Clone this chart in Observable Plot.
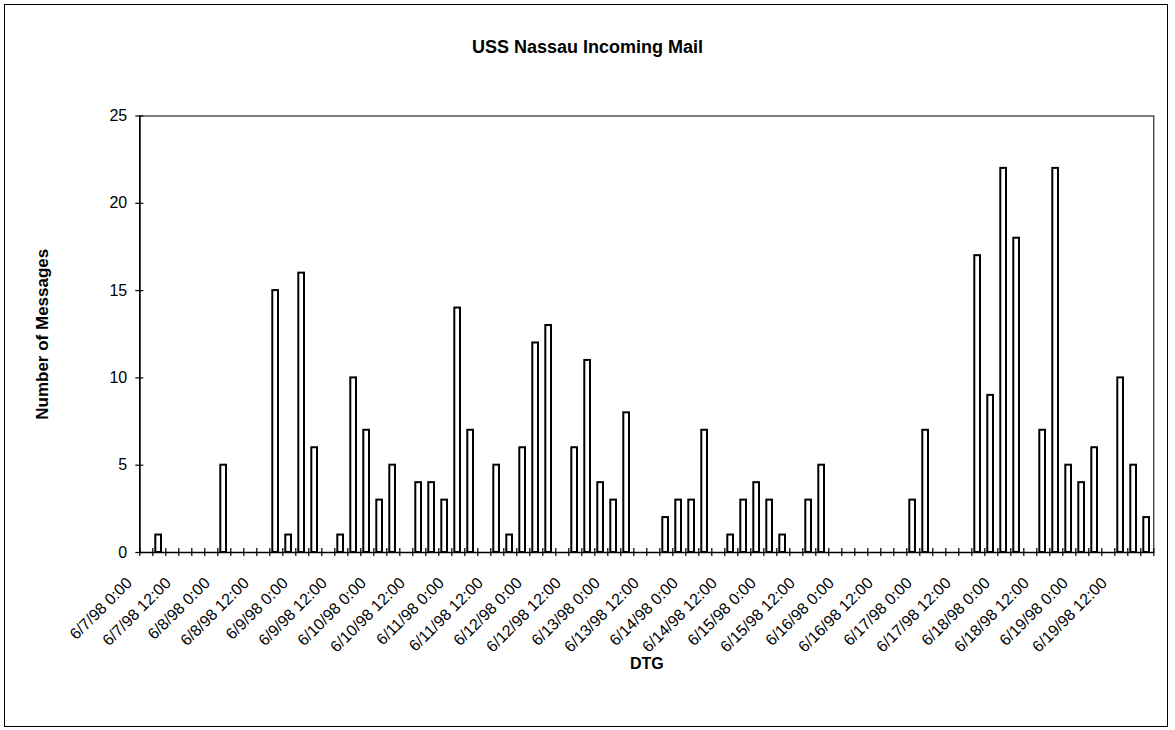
<!DOCTYPE html>
<html><head><meta charset="utf-8">
<script src="https://cdn.jsdelivr.net/npm/d3@7"></script>
<script src="https://cdn.jsdelivr.net/npm/@observablehq/plot@0.6"></script>
<style>
body{margin:0;background:#fff;}
#wrap{position:relative;width:1175px;height:730px;overflow:hidden;font-family:"Liberation Sans",Arial,Helvetica,sans-serif;color:#000;}
#title{height:90px;box-sizing:border-box;padding-top:37px;text-align:center;font-weight:bold;font-size:18px;line-height:20px;}
#chart svg{display:block;}
#border{position:absolute;left:4px;top:4px;width:1164px;height:723px;border:1px solid #000;box-sizing:border-box;pointer-events:none;}
</style></head>
<body><div id="wrap"><div id="title"></div><div id="chart"></div><div id="border"></div></div>
<script>
const chartTitle = "USS Nassau Incoming Mail";
const yLabel = "Number of Messages";
const xLabel = "DTG";
const startDate = new Date(Date.UTC(1998, 5, 7, 0));
const slotHours = 4;
// messages per 4-hour slot, 6/7/98 0:00 .. 6/19/98 20:00
const messages = [
  0, 1, 0, 0, 0, 0,
  5, 0, 0, 0, 15, 1,
  16, 6, 0, 1, 10, 7,
  3, 5, 0, 4, 4, 3,
  14, 7, 0, 5, 1, 6,
  12, 13, 0, 6, 11, 4,
  3, 8, 0, 0, 2, 3,
  3, 7, 0, 1, 3, 4,
  3, 1, 0, 3, 5, 0,
  0, 0, 0, 0, 0, 3,
  7, 0, 0, 0, 17, 9,
  22, 18, 0, 7, 22, 5,
  4, 6, 0, 10, 5, 2
];
const xTickLabels = [
  "6/7/98 0:00", "6/7/98 12:00", "6/8/98 0:00", "6/8/98 12:00",
  "6/9/98 0:00", "6/9/98 12:00", "6/10/98 0:00", "6/10/98 12:00",
  "6/11/98 0:00", "6/11/98 12:00", "6/12/98 0:00", "6/12/98 12:00",
  "6/13/98 0:00", "6/13/98 12:00", "6/14/98 0:00", "6/14/98 12:00",
  "6/15/98 0:00", "6/15/98 12:00", "6/16/98 0:00", "6/16/98 12:00",
  "6/17/98 0:00", "6/17/98 12:00", "6/18/98 0:00", "6/18/98 12:00",
  "6/19/98 0:00", "6/19/98 12:00"
];
const yTicks = [0, 5, 10, 15, 20, 25];

document.getElementById("title").textContent = chartTitle;

const slotStarts = d3.range(messages.length + 1).map(i => d3.utcHour.offset(startDate, slotHours * i));
const data = messages.map((v, i) => ({start: slotStarts[i], end: slotStarts[i + 1], value: v}));
// label sits at the centre of every third slot (every 12 hours)
const labelDates = xTickLabels.map((_, j) => d3.utcHour.offset(startDate, 12 * j + slotHours / 2));
const labelMap = new Map(labelDates.map((d, j) => [+d, xTickLabels[j]]));

const font = "'Liberation Sans', Arial, Helvetica, sans-serif";
const chart = Plot.plot({
  width: 1175, height: 640,
  marginLeft: 139.3, marginRight: 21.7, marginTop: 25.5, marginBottom: 178,
  style: {fontFamily: font, fontSize: "16px", color: "#000", background: "transparent", overflow: "visible"},
  x: {type: "utc", domain: [slotStarts[0], slotStarts[slotStarts.length - 1]]},
  y: {domain: [0, 25]},
  marks: [
    Plot.frame({stroke: "#000", strokeWidth: 1}),
    Plot.rectY(data.filter(d => d.value > 0), {x1: "start", x2: "end", y: "value", insetLeft: 3, insetRight: 4.3, fill: "#fff", stroke: "#000", strokeWidth: 2}),
    Plot.ruleY([0], {stroke: "#000", strokeWidth: 1.6}),
    Plot.ruleX([slotStarts[0]], {stroke: "#000", strokeWidth: 1.6}),
    Plot.ruleX(slotStarts, {x: d => d, y1: 0, y2: 0, insetTop: -4, insetBottom: -4, stroke: "#000", strokeWidth: 1.2}),
    Plot.ruleY(yTicks, {y: d => d, x1: startDate, x2: startDate, insetLeft: -4, insetRight: -4, stroke: "#000", strokeWidth: 1.2}),
    Plot.axisY({ticks: yTicks, tickSize: 0, tickPadding: 12.6, label: null, fontSize: 16}),
    Plot.axisX({ticks: labelDates, tickSize: 0, tickRotate: -45, tickFormat: d => labelMap.get(+d), label: null, dx: -17, dy: 16, fontSize: 16}),
    Plot.text([yLabel], {frameAnchor: "left", textAnchor: "middle", lineAnchor: "middle", dx: -97.3, rotate: -90, fontWeight: "bold", fontSize: 17}),
    Plot.text([xLabel], {frameAnchor: "bottom", textAnchor: "middle", lineAnchor: "middle", dy: 111, fontWeight: "bold", fontSize: 16})
  ]
});
document.getElementById("chart").appendChild(chart);
</script>
</body></html>
